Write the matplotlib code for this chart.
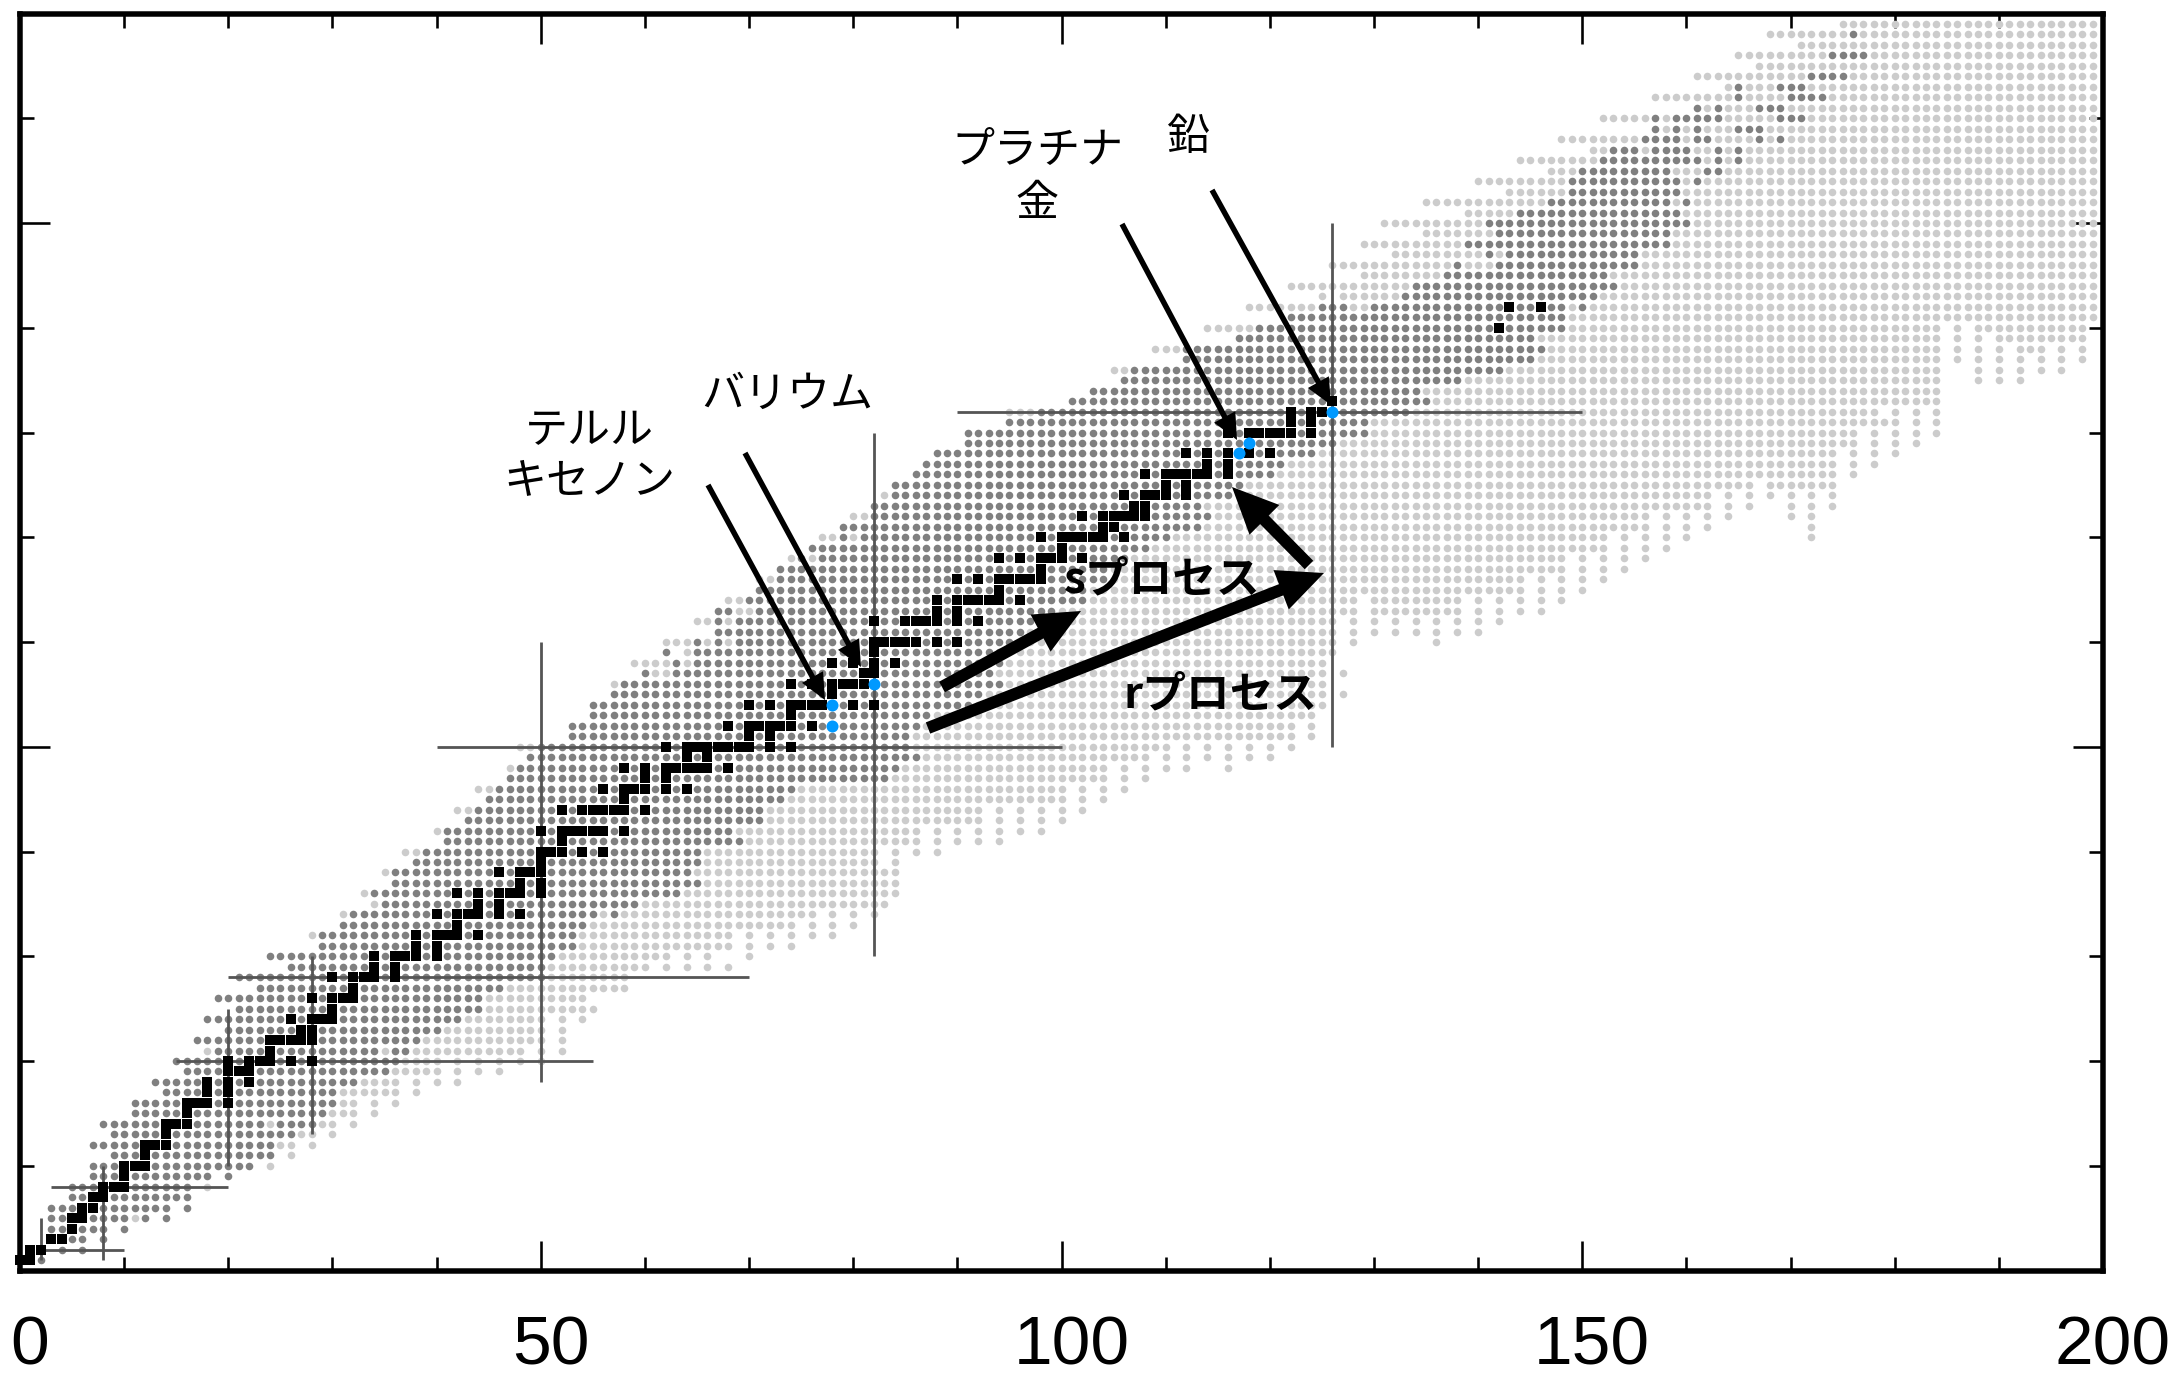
import matplotlib
matplotlib.use("Agg")
import matplotlib.pyplot as plt
from matplotlib.patches import FancyArrow
from matplotlib.transforms import ScaledTranslation

# Observed nuclides (mid grey), by proton number Z: neutron numbers N or (first, last) runs
KNOWN = {
 1:[2],2:[4,6],3:[5,6,8],4:[3,4,6,7,8,10],5:[3,4,(7,10),12,14],6:[(3,5),(8,14),16],7:[5,6,(9,16)],
 8:[(5,7),(11,16)],9:[(7,9),(11,18),20],10:[(7,9),(13,22)],11:[(9,11),(13,24)],12:[(7,11),(15,24)],
 13:[(9,13),(15,26)],14:[(8,13),(17,23),(25,28)],15:[(11,15),(17,29)],16:[(11,15),19,(21,30)],
 17:[(14,17),19,(21,30)],18:[(13,17),19,21,(23,32)],19:[(16,19),(23,35)],20:[(15,19),21,25,27,(29,36)],
 21:[(19,23),(25,34),36,37],22:[(17,38)],23:[(20,40)],24:[(18,42)],25:[(21,44)],26:[(19,44)],27:[(23,46)],
 28:[(21,50)],29:[(26,50)],30:[(24,51)],31:[(29,53)],32:[(29,53)],33:[(31,54)],34:[(32,55),57],35:[(35,59)],
 36:[(34,63)],37:[(36,65)],38:[(36,64)],39:[(38,65)],40:[(39,65)],41:[(41,69)],42:[(41,68)],43:[(43,71)],
 44:[(44,71)],45:[(45,73)],46:[(46,74)],47:[(47,83)],48:[(48,84)],49:[(49,86)],50:[(50,85)],51:[(53,85)],
 52:[(53,86)],53:[(55,87)],54:[(55,91)],55:[(57,92)],56:[(58,94)],57:[60,(63,93)],58:[63,(65,94)],
 59:[62,(65,94)],60:[65,67,(69,96)],61:[(67,96)],62:[67,(69,98)],63:[67,68,(71,99)],64:[(70,102)],
 65:[(71,102)],66:[(73,104)],67:[(73,104)],68:[75,(77,106)],69:[(76,108)],70:[79,(81,110)],71:[(79,113)],
 72:[(82,114)],73:[(82,113)],74:[(84,116)],75:[(84,117)],76:[(86,120)],77:[(87,121)],78:[(88,124)],
 79:[(91,126)],80:[(91,129)],81:[(95,129)],82:[(98,133)],83:[(101,135)],84:[(103,134)],85:[(106,138)],
 86:[(107,142)],87:[(112,145)],88:[(112,146)],89:[(117,145)],90:[(119,148)],91:[(122,148)],
 92:[(125,127),(130,148),150],93:[(133,151)],94:[(134,153)],95:[(137,152)],96:[138,(142,155)],
 97:[141,(143,155)],98:[(139,158)],99:[(142,158)],100:[(141,160)],101:[(144,159)],102:[(147,158),160],
 103:[(149,159)],104:[(149,159),161],105:[(150,158),162,163],106:[(152,161),163,165],
 107:[(153,155),(157,160),163,165],108:[(156,159),161,162,167,169],109:[157,159,161,(165,167)],
 110:[157,(159,163),(169,171)],111:[161,163,(167,169)],112:[165,(170,173)],113:[165,(169,171)],
 114:[(172,175)],116:[(174,177)],118:[176],
}

# Predicted nuclides (light grey)
PREDICTED = {
 5:[11],8:[18],10:[24],11:[26],12:[25,26,28],13:[27,28,30],14:[24,29,30,32],15:[(30,32),34],16:[31,32,34,36],
 17:[(31,36),38],18:[(33,36),38,40,42],19:[(36,40),42,44,46],20:[(37,40),42,44,46,48,50],
 21:[18,35,(38,48),50,52],22:[(39,50),52],23:[(41,50),52],24:[(43,50),52,54],25:[(45,55)],26:[(45,54)],
 27:[(47,58)],28:[(51,58)],29:[(51,60),62,64,66,68],30:[(52,62),64,66,70],31:[(54,68),70,72,74],
 32:[28,(54,68),70,72,74,76,78],33:[(55,74),76,78,80],34:[31,56,(58,76),78,80,82],35:[34,(60,83)],
 36:[33,(64,84)],37:[(66,84)],38:[35,(65,84)],39:[(66,82),84],40:[37,38,(66,82),84,86,88],
 41:[(70,86),88,90,92,94],42:[40,(69,86),88,90,92,94,96,98],43:[(72,92),94,96,98,100],
 44:[42,43,(72,92),94,96,98,100,102],45:[(74,100),102,104],46:[44,45,(75,100),102,104,106],
 47:[(84,104),106,108],48:[47,(85,104),106,108,110,112,116],49:[(87,108),110,112,114,116,118,120],
 50:[48,49,(86,110),112,114,116,118,120,122],51:[(86,122),124],52:[(87,122),124],53:[(88,124)],
 54:[(92,125)],55:[(93,125),127],56:[57,(95,125)],57:[61,62,(94,125),127],58:[(59,62),64,(95,125)],
 59:[64,(95,126)],60:[62,63,64,66,68,(97,126),128,136],61:[(97,126),128,130,132,134,136,138,140],
 62:[65,66,68,(99,126),128,130,132,134,136,138,140,142],63:[69,70,(100,128),(130,138),140,142,144,146],
 64:[68,69,(103,128),(130,138),140,142,144,146,148],65:[(103,144),146,148,150],
 66:[71,72,(105,144),146,148,150,152],67:[(105,148),150,152,154],68:[74,76,(107,148),150,152,154,156],
 69:[(109,152),154,156,158],70:[77,78,80,(111,152),154,156,158,160,172],71:[(114,156),158,160,162,172],
 72:[80,81,(115,156),158,160,162,164,170,172],73:[(114,162),164,166,170,172,174],
 74:[83,(117,162),164,166,168,170,172,174],75:[(118,166),(168,174)],76:[(121,174),176],
 77:[(122,174),176,178],78:[(125,174),176,178,180],79:[(127,176),178,180,182],
 80:[(130,176),178,180,182,184],81:[(130,180),182,184],82:[95,96,97,(134,178),180,182,184],
 83:[(136,184)],84:[(135,184)],85:[(139,184),188,190,192],86:[105,106,(143,184),188,190,192,194,196],
 87:[(146,184),186,188,190,192,194,196,198],88:[109,110,111,(147,184),186,188,190,(192,194),196,198],
 89:[(146,184),186,188,(190,198)],90:[(114,118),(149,184),186,(188,198)],91:[(149,199)],
 92:[(118,124),128,129,149,(151,199)],93:[125,(127,132),(152,199)],94:[(122,133),(154,199)],
 95:[(129,136),(153,199)],96:[(126,137),(139,141),(156,199)],97:[(132,140),142,(156,199)],
 98:[(129,138),(159,199)],99:[(135,141),(159,199)],100:[(131,140),(161,199)],101:[(139,143),(160,199)],
 102:[(135,146),159,(161,199)],103:[(143,148),(160,199)],104:[(140,148),160,(162,199)],
 105:[(147,149),(159,161),(164,199)],106:[(144,151),162,164,(166,199)],
 107:[151,152,156,161,162,164,(166,199)],108:[(148,155),160,(163,166),168,(170,199)],
 109:[158,160,(162,164),(168,199)],110:[(152,156),158,(164,168),(172,199)],111:[162,(164,166),(170,199)],
 112:[(157,164),(166,169),(174,199)],113:[164,(166,168),(172,199)],114:[(161,171),(176,199)],
 115:[(167,199)],116:[(165,173),(178,199)],117:[(171,199)],118:[(168,175),(177,199)],119:[(175,199)],
}

# Stable nuclides (black squares)
STABLE = {
 1:[0,1],2:[1,2],3:[3,4],4:[5],5:[5,6],6:[6,7],7:[7,8],8:[8,9,10],9:[10],10:[10,11,12],11:[12],12:[12,13,14],
 13:[14],14:[14,15,16],15:[16],16:[16,17,18,20],17:[18,20],18:[18,20,22],19:[20,21,22],20:[20,22,23,24,26,28],
 21:[24],22:[24,25,26,27,28],23:[27,28],24:[26,28,29,30],25:[30],26:[28,30,31,32],27:[32],28:[30,32,33,34,36],
 29:[34,36],30:[34,36,37,38,40],31:[38,40],32:[38,40,41,42,44],33:[42],34:[40,42,43,44,46,48],35:[44,46],
 36:[42,44,46,47,48,50],37:[48,50],38:[46,48,49,50],39:[50],40:[50,51,52,54,56],41:[52],42:[50,52,53,54,55,56,58],
 44:[52,54,55,56,57,58,60],45:[58],46:[56,58,59,60,62,64],47:[60,62],48:[58,60,62,63,64,65,66,68],49:[64,66],
 50:[62,64,65,66,67,68,69,70,72,74],51:[70,72],52:[68,70,71,72,73,74,76],53:[74],54:[70,72,74,75,76,77,80,82],
 55:[78],56:[74,76,78,79,80,81],57:[81,82],58:[78,80,82,84],59:[82],60:[82,83,84,85,86,88,90],
 62:[82,85,86,87,88,90,92],63:[88,90],64:[88,90,91,92,93,94,96],65:[94],66:[90,92,94,95,96,97,98],67:[98],
 68:[94,96,98,99,100,102],69:[100],70:[98,100,101,102,103,104,106],71:[104,105],72:[102,104,105,106,107,108],
 73:[107,108],74:[106,108,109,110,112],75:[110,112],76:[108,110,111,112,113,114,116],77:[114,116],
 78:[112,114,116,118,120],80:[116,118,119,120,121,122,124],81:[122,124],82:[122,124,125],83:[126],
 90:[142],92:[143,146],
}

# Highlighted nuclides: Te, Xe, Ba, Pt, Au, Pb
HILITE_Z = [52, 54, 56, 78, 79, 82]
HILITE_N = [78, 78, 82, 117, 118, 126]

# Magic-number guide lines: (magic, first, last)
MAGIC_V = [(2, 1, 5), (8, 1, 10), (20, 10, 25), (28, 13, 30), (50, 18, 60), (82, 30, 80), (126, 50, 100)]
MAGIC_H = [(2, 2, 10), (8, 3, 20), (20, 15, 55), (28, 20, 70), (50, 40, 100), (82, 90, 150)]

XMAJOR = [0, 50, 100, 150, 200]
XMINOR = [10, 20, 30, 40, 60, 70, 80, 90, 110, 120, 130, 140, 160, 170, 180, 190]
YMAJOR = [0, 50, 100]
YMINOR = [10, 20, 30, 40, 60, 70, 80, 90, 110]

# Labels and arrows, pixel positions on the 2172x1375 canvas
LABELS = [("バリウム", 787, 395, 31, "normal"), ("テルル", 589, 431, 31, "normal"), ("キセノン", 589, 482, 31, "normal"),
          ("プラチナ", 1037, 151, 31, "normal"), ("金", 1037, 204, 31, "normal"), ("鉛", 1188, 138, 31, "normal"),
          ("sプロセス", 1162, 579, 31.5, "bold"), ("rプロセス", 1221, 694, 31.5, "bold")]
THIN = [((708, 485), (825, 700)), ((745, 453), (861, 667)), ((1122, 224), (1237, 440)), ((1212, 190), (1331, 405))]
THICK = [((942, 687), (1081, 611)), ((928, 728), (1324, 573)), ((1309, 565), (1232, 487))]

W, H = 2172, 1375
X0, X1, Y0, Y1 = 20.0, 2103.0, 1270.5, 13.5
DARK, LIGHT, BLUE = "#808080", "#cccccc", "#0099ff"


def cells(table):
    xs, ys = [], []
    for z, runs in table.items():
        for r in runs:
            a, b = r if isinstance(r, tuple) else (r, r)
            xs.extend(range(a, b + 1))
            ys.extend([z] * (b - a + 1))
    return xs, ys


def to_data(px, py):
    return (px - X0) / (X1 - X0) * 200, (Y0 - py) / (Y0 - Y1) * 120


PT = 72 / 100  # points per pixel at dpi 100
fig = plt.figure(figsize=(W / 100, H / 100), dpi=100, facecolor="white")
ax = fig.add_axes([X0 / W, 1 - Y0 / H, (X1 - X0) / W, (Y0 - Y1) / H])
ax.set_xlim(0, 200)
ax.set_ylim(0, 120)
ax.set_axisbelow(True)

for s in ax.spines.values():
    s.set_linewidth(5.5 * PT)
    s.set_color("black")

ax.set_xticks(XMAJOR)
ax.set_xticks(XMINOR, minor=True)
ax.set_yticks(YMAJOR)
ax.set_yticks(YMINOR, minor=True)
ax.set_yticklabels([])
ax.tick_params(which="major", direction="in", length=30 * PT, width=2.6 * PT, top=True, right=True,
               bottom=True, left=True, color="black")
ax.tick_params(which="minor", direction="in", length=14 * PT, width=2.6 * PT, top=True, right=True,
               bottom=True, left=True, color="black")
ax.set_xticklabels([str(v) for v in XMAJOR], family="Liberation Sans", fontsize=50)
ax.tick_params(axis="x", which="major", pad=32)
shift = ScaledTranslation(10 / 100, 0, fig.dpi_scale_trans)
for lab in ax.get_xticklabels():
    lab.set_transform(lab.get_transform() + shift)

DOT = (7.6 * PT) ** 2
xs, ys = cells(PREDICTED)
ax.scatter(xs, ys, s=DOT, c=LIGHT, linewidths=0, zorder=3, clip_on=False)
xs, ys = cells(KNOWN)
ax.scatter(xs, ys, s=DOT, c=DARK, linewidths=0, zorder=3.2, clip_on=False)

for m, a, b in MAGIC_V:
    ax.plot([m, m], [a, b], color="#555555", lw=2.8 * PT, zorder=3.5, solid_capstyle="butt")
for m, a, b in MAGIC_H:
    ax.plot([a, b], [m, m], color="#555555", lw=2.8 * PT, zorder=3.5, solid_capstyle="butt")

xs, ys = cells(STABLE)
ax.scatter(xs, ys, s=(10 * PT) ** 2, c="black", marker="s", linewidths=0, zorder=4, clip_on=False)
ax.scatter(HILITE_N, HILITE_Z, s=(12 * PT) ** 2, c=BLUE, linewidths=0, zorder=5, clip_on=False)

UNIT = (X1 - X0) / 200
for tail, tip, wid, hw, hl in [(t, p, 5.5, 24, 26) for t, p in THIN] + [(t, p, 12, 42, 46) for t, p in THICK]:
    x0, y0 = to_data(*tail)
    x1, y1 = to_data(*tip)
    ax.add_patch(FancyArrow(x0, y0, x1 - x0, y1 - y0, width=wid / UNIT, head_width=hw / UNIT,
                            head_length=hl / UNIT, length_includes_head=True, color="black",
                            lw=0, zorder=6))

for txt, px, py, size, weight in LABELS:
    x, y = to_data(px, py)
    ax.text(x, y, txt, ha="center", va="center", fontsize=size, fontweight=weight,
            family=["Noto Sans CJK JP", "DejaVu Sans"], color="black", zorder=7)

fig.savefig("out.png", dpi=100, facecolor="white")
